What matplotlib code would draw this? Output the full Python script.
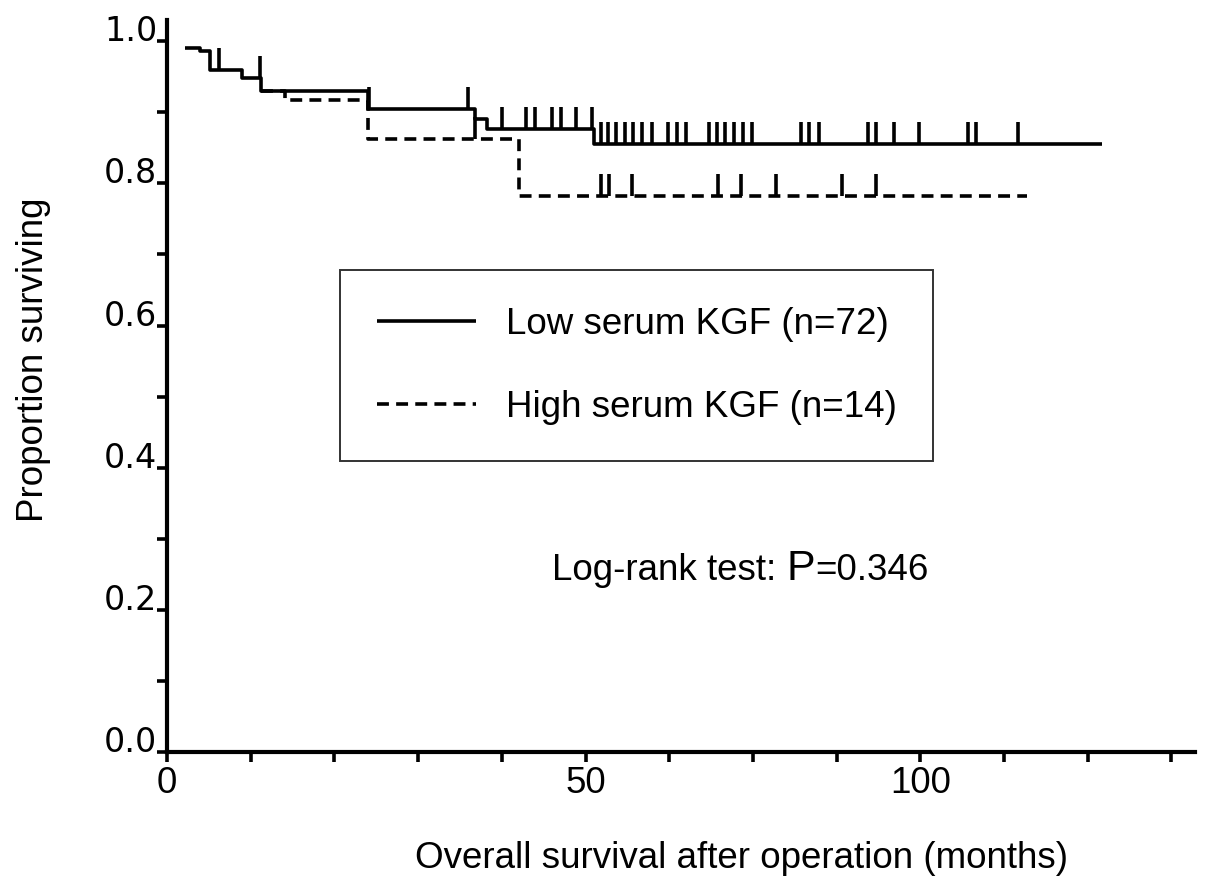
import numpy as np
import matplotlib.pyplot as plt

plt.rcParams['font.family'] = ['Liberation Sans', 'DejaVu Sans']

# Curva de Kaplan-Meier, KGF bajo (linea continua)
low_time = [2.2, 3.9, 5.1, 8.9, 11.2, 24.0, 36.8, 38.2, 51.0]
low_surv = [0.990, 0.987, 0.960, 0.949, 0.930, 0.905, 0.890, 0.876, 0.856]
low_end = 111.7
low_cens = [6.2, 11.1, 24.1, 36.0, 40.0, 42.9, 44.0, 46.0, 47.1, 48.9, 50.8,
            51.9, 52.7, 53.7, 54.7, 55.7, 56.8, 57.9, 59.9, 60.9, 62.0,
            64.8, 65.7, 66.7, 67.7, 68.8, 69.9, 75.7, 76.7, 77.9,
            83.8, 84.7, 86.8, 89.8, 95.7, 96.6, 101.7]

# KGF alto (linea discontinua)
high_time = [11.2, 14.1, 24.0, 42.0]
high_surv = [0.930, 0.918, 0.862, 0.782]
high_end = 102.7
high_cens = [36.8, 51.9, 52.8, 55.6, 65.8, 68.6, 72.8, 80.6, 84.7]

x_ticks = list(range(0, 121, 10))
x_ticklabels = ['0', '', '', '', '', '50', '', '', '', '100', '', '', '']
y_ticks = [round(0.1 * i, 1) for i in range(11)]
y_ticklabels = ['0.0', '', '0.2', '', '0.4', '', '0.6', '', '0.8', '', '1.0']

fig = plt.figure(figsize=(12.05, 8.92), dpi=100)
ax = fig.add_axes([0.1386, 0.157, 0.853, 0.8206])

lw = 2.6
dash = (0, (3.3, 2.0))


def km_curve(times, surv, end, cens, ls, label):
    x = list(times) + [end]
    y = list(surv) + [surv[-1]]
    ax.plot(x, y, drawstyle='steps-post', color='black', lw=lw, ls=ls,
            label=label, solid_capstyle='butt')
    # marcas de censura
    idx = np.searchsorted(times, cens, side='right') - 1
    lev = np.array(surv)[idx]
    ax.vlines(cens, lev, lev + 0.031, color='black', lw=lw)


km_curve(low_time, low_surv, low_end, low_cens, '-', 'Low serum KGF (n=72)')
km_curve(high_time, high_surv, high_end, high_cens, dash, 'High serum KGF (n=14)')

ax.set_xlim(0, 122.8)
ax.set_ylim(0, 1.03)
for s in ['top', 'right']:
    ax.spines[s].set_visible(False)
for s in ['left', 'bottom']:
    ax.spines[s].set_linewidth(3)

ax.set_xticks(x_ticks)
ax.set_xticklabels(x_ticklabels, fontsize=26.5)
ax.set_yticks(y_ticks)
ax.set_yticklabels(y_ticklabels, fontsize=24, family='DejaVu Sans')
ax.tick_params(axis='x', length=7, width=2.6, pad=3)
ax.tick_params(axis='y', length=7, width=2.6, pad=0)
for lab in ax.get_yticklabels():
    lab.set_va('baseline')

ax.set_xlabel('Overall survival after operation (months)', fontsize=26.5, va='center')
ax.xaxis.set_label_coords(0.559, -0.145)
ax.set_ylabel('Proportion surviving', fontsize=26.5, va='center')
ax.yaxis.set_label_coords(-0.130, 0.5355)

leg = ax.legend(loc='upper left', bbox_to_anchor=(340 / 1205, 1 - 270 / 892),
                bbox_transform=fig.transFigure, borderaxespad=0, fontsize=26.5,
                frameon=True, fancybox=False, edgecolor='black',
                handlelength=2.7, handletextpad=0.8, borderpad=1.0,
                labelspacing=1.3)
leg.get_frame().set_linewidth(1.4)

# texto del log-rank
ty = 0.242
t1 = ax.text(46.0, ty, 'Log-rank test: ', fontsize=26.5, va='baseline')
t2 = ax.annotate('P', xy=(1, ty), xycoords=(t1, 'data'), fontsize=31,
                 va='baseline', ha='left')
ax.annotate('=0.346', xy=(1, ty), xycoords=(t2, 'data'), fontsize=26.5,
            va='baseline', ha='left')

fig.savefig('out.png', dpi=100)
